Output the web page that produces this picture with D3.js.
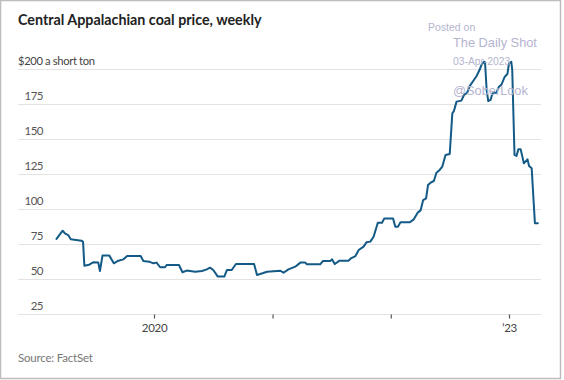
<!DOCTYPE html>
<html>
<head>
<meta charset="utf-8">
<script src="https://cdn.jsdelivr.net/npm/d3@7"></script>
<style>
  html, body { margin: 0; padding: 0; background: #fff; }
  svg { display: block; }
</style>
</head>
<body>
<svg id="chart" width="564" height="380"></svg>
<script>
// ---- Data ----
const dates = [
  "2019-03-06","2019-03-25","2019-04-01","2019-04-11","2019-04-19","2019-05-22","2019-05-27","2019-05-31",
  "2019-06-15","2019-06-27","2019-07-13","2019-07-18","2019-07-26","2019-08-16","2019-08-30","2019-09-13",
  "2019-09-28","2019-10-10","2019-11-21","2019-11-29","2019-12-17","2019-12-30","2020-01-09","2020-01-20",
  "2020-02-04","2020-02-09","2020-03-11","2020-03-18","2020-03-29","2020-04-11","2020-05-07","2020-05-28",
  "2020-06-12","2020-06-22","2020-07-02","2020-07-16","2020-08-05","2020-08-13","2020-08-28","2020-09-10",
  "2020-11-05","2020-11-14","2020-12-01","2020-12-15","2021-01-15","2021-01-25","2021-02-04","2021-02-19",
  "2021-03-12","2021-03-28","2021-04-12","2021-04-17","2021-05-28","2021-06-06","2021-06-28","2021-07-04",
  "2021-07-12","2021-07-27","2021-08-24","2021-08-31","2021-09-14","2021-09-24","2021-10-09","2021-10-18",
  "2021-10-30","2021-11-09","2021-11-22","2021-12-05","2021-12-12","2022-01-08","2022-01-15","2022-01-23",
  "2022-01-31","2022-03-01","2022-03-13","2022-03-25","2022-04-03","2022-04-11","2022-04-20","2022-04-26",
  "2022-05-04","2022-05-14","2022-05-22","2022-06-01","2022-06-09","2022-06-19","2022-07-02","2022-07-10",
  "2022-07-15","2022-07-23","2022-08-07","2022-08-15","2022-08-25","2022-09-02","2022-09-13","2022-09-23",
  "2022-10-03","2022-10-08","2022-10-16","2022-10-19","2022-10-24","2022-10-29","2022-11-05","2022-11-11",
  "2022-11-23","2022-12-01","2022-12-09","2022-12-19","2022-12-27","2023-01-01","2023-01-08","2023-01-11",
  "2023-01-18","2023-01-24","2023-01-30","2023-02-06","2023-02-16","2023-02-27","2023-03-04","2023-03-12",
  "2023-03-22","2023-03-31"
];
const prices = [
  78.6, 84.5, 82.6, 81.4, 78.4, 77.4, 76.5, 59.5,
  60.2, 61.9, 61.7, 55.7, 66.7, 66.7, 61.2, 63.1,
  64.0, 66.4, 66.4, 62.9, 62.4, 61.2, 61.7, 58.4,
  58.4, 60.0, 60.0, 60.0, 54.8, 56.0, 55.2, 55.7,
  56.9, 58.1, 56.4, 51.7, 51.7, 56.4, 56.4, 60.7,
  60.7, 52.9, 54.1, 55.2, 55.7, 55.9, 54.5, 56.9,
  58.8, 61.7, 61.7, 60.5, 60.5, 62.9, 62.9, 64.0,
  60.7, 63.1, 63.1, 64.8, 66.4, 70.7, 73.1, 76.2,
  76.7, 80.2, 90.2, 90.2, 93.3, 93.3, 87.4, 87.4,
  90.5, 90.5, 92.6, 97.4, 99.0, 106.4, 107.6, 117.1,
  118.8, 120.0, 125.9, 127.9, 130.2, 138.6, 139.3, 168.3,
  170.0, 176.7, 177.4, 181.4, 183.1, 187.9, 191.6, 195.0,
  199.8, 202.9, 205.2, 204.8, 185.0, 177.1, 177.9, 182.6,
  183.1, 187.4, 189.0, 194.5, 196.4, 204.0, 205.2, 199.3,
  138.6, 137.9, 142.6, 142.6, 132.6, 135.5, 130.7, 129.1,
  89.8, 89.8
];
const yTicks = [25, 50, 75, 100, 125, 150, 175, 200];
const xTickDates = ["2020-01-01", "2021-01-01", "2022-01-01", "2023-01-01"];
const xTickLabels = ["2020", "", "", "\u201923"];
const titleText = "Central Appalachian coal price, weekly";
const unitText = "$200 a short ton";
const sourceText = "Source: FactSet";
const watermark = ["Posted on", "The Daily Shot", "03-Apr-2023", "@SoberLook"];

// ---- Build ----
const parse = d3.timeParse("%Y-%m-%d");
const data = dates.map((d, i) => ({ date: parse(d), value: prices[i] }));

const svg = d3.select("#chart");
const font = "Lato, 'Open Sans', sans-serif";

// frame
svg.append("rect").attr("x", 0.5).attr("y", 0.5).attr("width", 560).attr("height", 378)
  .attr("fill", "#fff").attr("stroke", "#bdbdbd").attr("stroke-width", 1.5);

const left = 18, right = 541;
const x = d3.scaleTime()
  .domain([parse("2020-01-01"), parse("2023-01-01")])
  .range([154, 509]);
const y = d3.scaleLinear().domain([25, 200]).range([314, 69]);

// gridlines
svg.append("g").selectAll("line").data(yTicks).join("line")
  .attr("x1", left).attr("x2", right)
  .attr("y1", d => Math.round(y(d)) + 0.5).attr("y2", d => Math.round(y(d)) + 0.5)
  .attr("stroke", "#e3e3e3").attr("stroke-width", 1);

// y labels (except 200 which carries unit)
svg.append("g").selectAll("text").data(yTicks.filter(d => d !== 200)).join("text")
  .attr("x", 43).attr("y", d => y(d) - 4)
  .attr("text-anchor", "end")
  .attr("font-family", font).attr("font-size", 11.5).attr("letter-spacing", -0.5).attr("fill", "#555")
  .text(d => d);

svg.append("text").attr("x", left).attr("y", y(200) - 4)
  .attr("font-family", font).attr("font-size", 11.2).attr("letter-spacing", -0.35).attr("fill", "#444")
  .text(unitText);

// x axis ticks
const xAxis = d3.axisBottom(x)
  .tickValues(xTickDates.map(parse))
  .tickSize(4)
  .tickFormat((d, i) => xTickLabels[i]);
const gx = svg.append("g").attr("transform", `translate(0,${Math.round(y(25)) + 0.5})`).call(xAxis);
gx.select(".domain").remove();
gx.selectAll(".tick line").attr("stroke", "#555").attr("stroke-width", 1.2);
gx.selectAll(".tick text").attr("font-family", font).attr("font-size", 11.5).attr("letter-spacing", -0.3)
  .attr("fill", "#444").attr("dy", "0.95em").attr("y", 7);

// line
const line = d3.line().x(d => x(d.date)).y(d => y(d.value));
svg.append("path").datum(data)
  .attr("fill", "none").attr("stroke", "#135a87").attr("stroke-width", 2)
  .attr("stroke-linejoin", "round").attr("stroke-linecap", "round")
  .attr("d", line);

// title
svg.append("text").attr("x", left).attr("y", 25)
  .attr("font-family", font).attr("font-weight", 700).attr("font-size", 14.3).attr("fill", "#222")
  .text(titleText);

// source
svg.append("text").attr("x", left).attr("y", 362)
  .attr("font-family", font).attr("font-size", 11.5).attr("letter-spacing", -0.2).attr("fill", "#777")
  .text(sourceText);

// watermark
const wm = svg.append("g").attr("font-family", "'Liberation Sans', Arial, sans-serif").attr("fill", "#b4b4cf");
wm.append("text").attr("x", 428).attr("y", 31).attr("font-size", 10.5).text(watermark[0]);
wm.append("text").attr("x", 453).attr("y", 47).attr("font-size", 12.8).text(watermark[1]);
wm.append("text").attr("x", 453).attr("y", 65).attr("font-size", 10.3).text(watermark[2]);
wm.append("text").attr("x", 453).attr("y", 95).attr("font-size", 12.8).text(watermark[3]);
</script>
</body>
</html>
